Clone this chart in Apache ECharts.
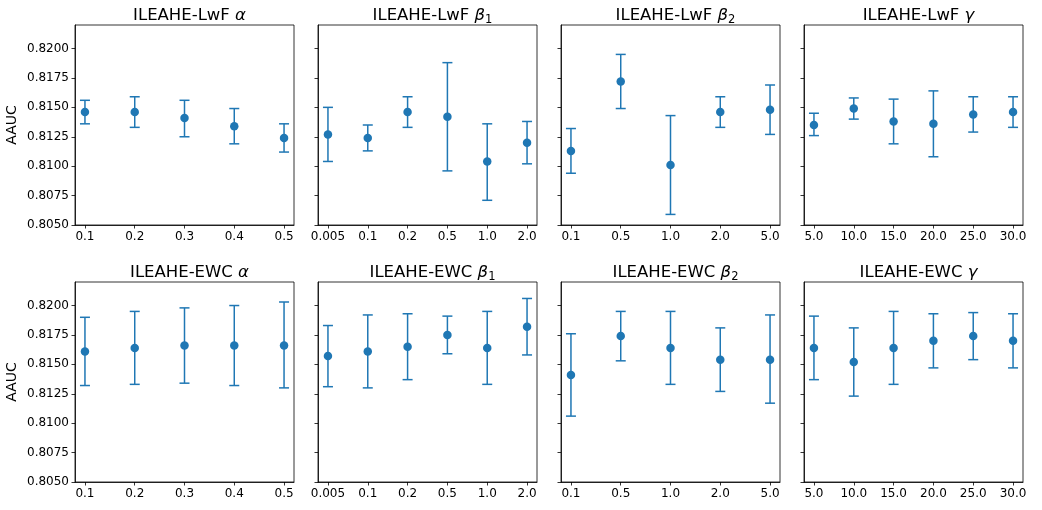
<!DOCTYPE html>
<html>
<head>
<meta charset="utf-8">
<script src="https://cdn.jsdelivr.net/npm/echarts@6/dist/echarts.min.js"></script>
<style>
html,body{margin:0;padding:0;background:#fff;}
#chart{width:1042px;height:510px;}
</style>
</head>
<body>
<div id="chart"></div>
<script>
// ---------- data ----------
const alphaCats = ['0.1', '0.2', '0.3', '0.4', '0.5'];
const beta1Cats = ['0.005', '0.1', '0.2', '0.5', '1.0', '2.0'];
const beta2Cats = ['0.1', '0.5', '1.0', '2.0', '5.0'];
const gammaCats = ['5.0', '10.0', '15.0', '20.0', '25.0', '30.0'];

// ILEAHE-LwF
const lwfAlphaMean = [0.8146, 0.8146, 0.8141, 0.8134, 0.8124];
const lwfAlphaLow  = [0.8136, 0.8133, 0.8125, 0.8119, 0.8112];
const lwfAlphaHigh = [0.8156, 0.8159, 0.8156, 0.8149, 0.8136];

const lwfBeta1Mean = [0.8127, 0.8124, 0.8146, 0.8142, 0.8104, 0.8120];
const lwfBeta1Low  = [0.8104, 0.8113, 0.8133, 0.8096, 0.8071, 0.8102];
const lwfBeta1High = [0.8150, 0.8135, 0.8159, 0.8188, 0.8136, 0.8138];

const lwfBeta2Mean = [0.8113, 0.8172, 0.8101, 0.8146, 0.8148];
const lwfBeta2Low  = [0.8094, 0.8149, 0.8059, 0.8133, 0.8127];
const lwfBeta2High = [0.8132, 0.8195, 0.8143, 0.8159, 0.8169];

const lwfGammaMean = [0.8135, 0.8149, 0.8138, 0.8136, 0.8144, 0.8146];
const lwfGammaLow  = [0.8126, 0.8140, 0.8119, 0.8108, 0.8129, 0.8133];
const lwfGammaHigh = [0.8145, 0.8158, 0.8157, 0.8164, 0.8159, 0.8159];

// ILEAHE-EWC
const ewcAlphaMean = [0.8161, 0.8164, 0.8166, 0.8166, 0.8166];
const ewcAlphaLow  = [0.8132, 0.8133, 0.8134, 0.8132, 0.8130];
const ewcAlphaHigh = [0.8190, 0.8195, 0.8198, 0.8200, 0.8203];

const ewcBeta1Mean = [0.8157, 0.8161, 0.8165, 0.8175, 0.8164, 0.8182];
const ewcBeta1Low  = [0.8131, 0.8130, 0.8137, 0.8159, 0.8133, 0.8158];
const ewcBeta1High = [0.8183, 0.8192, 0.8193, 0.8191, 0.8195, 0.8206];

const ewcBeta2Mean = [0.8141, 0.8174, 0.8164, 0.8154, 0.8154];
const ewcBeta2Low  = [0.8106, 0.8153, 0.8133, 0.8127, 0.8117];
const ewcBeta2High = [0.8176, 0.8195, 0.8195, 0.8181, 0.8192];

const ewcGammaMean = [0.8164, 0.8152, 0.8164, 0.8170, 0.8174, 0.8170];
const ewcGammaLow  = [0.8137, 0.8123, 0.8133, 0.8147, 0.8154, 0.8147];
const ewcGammaHigh = [0.8191, 0.8181, 0.8195, 0.8193, 0.8194, 0.8193];

const yTicks = [0.805, 0.8075, 0.81, 0.8125, 0.815, 0.8175, 0.82];
const yLabel = 'AAUC';

const panels = [
  {model: 'LwF', sym: 'α', sub: '', cats: alphaCats, mean: lwfAlphaMean, low: lwfAlphaLow, high: lwfAlphaHigh},
  {model: 'LwF', sym: 'β', sub: '1', cats: beta1Cats, mean: lwfBeta1Mean, low: lwfBeta1Low, high: lwfBeta1High},
  {model: 'LwF', sym: 'β', sub: '2', cats: beta2Cats, mean: lwfBeta2Mean, low: lwfBeta2Low, high: lwfBeta2High},
  {model: 'LwF', sym: 'γ', sub: '', cats: gammaCats, mean: lwfGammaMean, low: lwfGammaLow, high: lwfGammaHigh},
  {model: 'EWC', sym: 'α', sub: '', cats: alphaCats, mean: ewcAlphaMean, low: ewcAlphaLow, high: ewcAlphaHigh},
  {model: 'EWC', sym: 'β', sub: '1', cats: beta1Cats, mean: ewcBeta1Mean, low: ewcBeta1Low, high: ewcBeta1High},
  {model: 'EWC', sym: 'β', sub: '2', cats: beta2Cats, mean: ewcBeta2Mean, low: ewcBeta2Low, high: ewcBeta2High},
  {model: 'EWC', sym: 'γ', sub: '', cats: gammaCats, mean: ewcGammaMean, low: ewcGammaLow, high: ewcGammaHigh}
];

// ---------- layout ----------
const FONT = 'DejaVu Sans';
const COLOR = '#1f77b4';
const gridLefts = [75, 318, 561, 804];
const gridTops = [25, 282];
const GW = 219, GH = 200;

const grids = [], xAxes = [], yAxes = [], series = [], titles = [];

panels.forEach((p, i) => {
  const col = i % 4, row = Math.floor(i / 4);
  const n = p.cats.length;
  const margin = 0.05 * (n - 1);
  const idx = p.cats.map((c, k) => k);
  grids.push({left: gridLefts[col], top: gridTops[row], width: GW, height: GH,
    show: true, borderColor: '#000', borderWidth: 0.8, backgroundColor: 'transparent'});
  xAxes.push({
    type: 'value', gridIndex: i, min: -margin, max: n - 1 + margin,
    splitLine: {show: false},
    axisLine: {show: true, onZero: false, lineStyle: {color: '#000', width: 0.8}},
    axisTick: {show: true, length: 3.5, lineStyle: {color: '#000', width: 0.8}, customValues: idx},
    axisLabel: {show: true, customValues: idx, margin: 6, color: '#000', fontFamily: FONT, fontSize: 12,
      formatter: v => p.cats[Math.round(v)]}
  });
  yAxes.push({
    type: 'value', gridIndex: i, min: 0.805, max: 0.822,
    splitLine: {show: false},
    axisLine: {show: true, onZero: false, lineStyle: {color: '#000', width: 0.8}},
    axisTick: {show: true, length: 3.5, lineStyle: {color: '#000', width: 0.8}, customValues: yTicks},
    axisLabel: {show: col === 0, customValues: yTicks, margin: 6, color: '#000', fontFamily: FONT, fontSize: 12,
      formatter: v => v.toFixed(4)},
    name: col === 0 ? yLabel : '',
    nameLocation: 'middle', nameRotate: 90, nameGap: 56,
    nameTextStyle: {color: '#000', fontFamily: FONT, fontSize: 14}
  });
  const titleText = '{n|ILEAHE-' + p.model + ' }{g|' + p.sym + '}' + (p.sub ? '{s|' + p.sub + '}' : '');
  titles.push({
    text: titleText,
    left: gridLefts[col] + GW / 2, top: gridTops[row] - 24, textAlign: 'center',
    textStyle: {
      fontWeight: 'normal',
      rich: {
        n: {fontFamily: FONT, fontSize: 16.5, fontWeight: 'normal', color: '#000', lineHeight: 20},
        g: {fontFamily: FONT, fontSize: 16.5, fontWeight: 'normal', fontStyle: 'italic', color: '#000', lineHeight: 20},
        s: {fontFamily: FONT, fontSize: 11.5, fontWeight: 'normal', color: '#000', lineHeight: 12, verticalAlign: 'bottom', padding: [8, 0, 0, 0]}
      }
    }
  });
  const errData = p.cats.map((c, k) => [k, p.low[k], p.high[k]]);
  const ptData = p.cats.map((c, k) => [k, p.mean[k]]);
  series.push({
    type: 'custom', xAxisIndex: i, yAxisIndex: i, z: 2,
    encode: {x: 0, y: [1, 2]},
    data: errData,
    renderItem: function (params, api) {
      const x = api.value(0);
      const lo = api.coord([x, api.value(1)]);
      const hi = api.coord([x, api.value(2)]);
      const cw = 5;
      const st = {stroke: COLOR, lineWidth: 1.5};
      return {type: 'group', children: [
        {type: 'line', shape: {x1: lo[0], y1: lo[1], x2: hi[0], y2: hi[1]}, style: st},
        {type: 'line', shape: {x1: lo[0] - cw, y1: lo[1], x2: lo[0] + cw, y2: lo[1]}, style: st},
        {type: 'line', shape: {x1: hi[0] - cw, y1: hi[1], x2: hi[0] + cw, y2: hi[1]}, style: st}
      ]};
    }
  });
  series.push({
    type: 'scatter', xAxisIndex: i, yAxisIndex: i, z: 3,
    symbol: 'circle', symbolSize: 8.5,
    itemStyle: {color: COLOR, opacity: 1},
    data: ptData
  });
});

const chart = echarts.init(document.getElementById('chart'), null, {renderer: 'canvas'});
chart.setOption({
  animation: false,
  backgroundColor: '#fff',
  title: titles,
  grid: grids,
  xAxis: xAxes,
  yAxis: yAxes,
  series: series
});
</script>
</body>
</html>
